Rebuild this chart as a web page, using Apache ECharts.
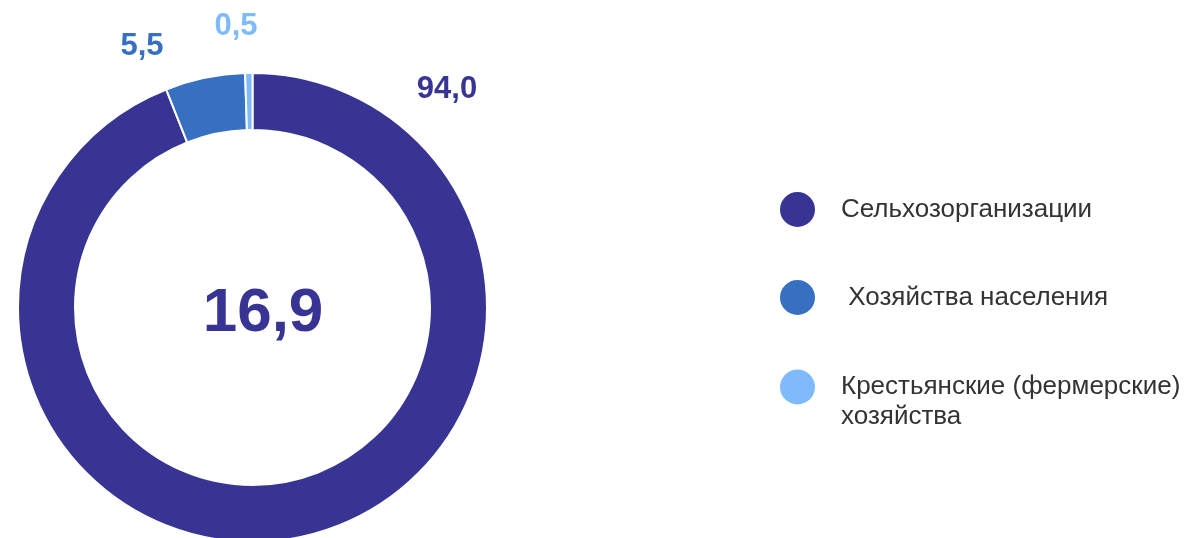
<!DOCTYPE html>
<html>
<head>
<meta charset="utf-8">
<script src="https://cdn.jsdelivr.net/npm/echarts@6/dist/echarts.min.js"></script>
<style>
html,body{margin:0;padding:0;background:#fff;}
#chart{width:1191px;height:538px;}
</style>
</head>
<body>
<div id="chart"></div>
<script>
const categories = ['Сельхозорганизации', 'Хозяйства населения', 'Крестьянские (фермерские) хозяйства'];
const legendLabels = ['Сельхозорганизации', ' Хозяйства населения', '\nКрестьянские (фермерские)\nхозяйства'];
const shares = [94.0, 5.5, 0.5];
const totalLabel = '16,9';
const colors = ['#383494', '#3770c1', '#7fbbfc'];

const FONT = 'Liberation Sans, Arial, sans-serif';
const chart = echarts.init(document.getElementById('chart'), null, {renderer: 'canvas'});

const labelPos = [[447, 89], [142, 46], [236, 26]];
const legendTops = [185, 273, 337];

const legends = categories.map((c, i) => ({
  data: [c],
  orient: 'vertical',
  left: 773,
  top: legendTops[i],
  icon: 'circle',
  itemWidth: 37,
  itemHeight: 37,
  itemGap: 0,
  selectedMode: false,
  formatter: () => legendLabels[i],
  textStyle: {fontFamily: FONT, fontSize: 26, color: '#333333', lineHeight: 30, padding: [0, 0, 0, 20]}
}));

chart.setOption({
  animation: false,
  color: colors,
  legend: legends,
  graphic: [{
    type: 'text',
    style: {
      text: totalLabel,
      x: 263, y: 314,
      align: 'center', verticalAlign: 'middle',
      font: 'bold 62px ' + FONT,
      fill: '#383494'
    }
  }],
  series: [{
    type: 'pie',
    center: [252.5, 307.5],
    radius: [177.5, 234.5],
    startAngle: 90,
    clockwise: true,
    avoidLabelOverlap: false,
    itemStyle: {borderColor: '#ffffff', borderWidth: 2},
    label: {
      show: true,
      position: 'outside',
      formatter: p => p.value.toFixed(1).replace('.', ','),
      fontFamily: FONT,
      fontWeight: 'bold',
      fontSize: 31,
      color: 'inherit'
    },
    labelLine: {show: false},
    labelLayout: p => ({x: labelPos[p.dataIndex][0], y: labelPos[p.dataIndex][1], align: 'center', verticalAlign: 'middle'}),
    emphasis: {disabled: true},
    data: categories.map((c, i) => ({name: c, value: shares[i], label: {color: colors[i]}}))
  }]
});
</script>
</body>
</html>
